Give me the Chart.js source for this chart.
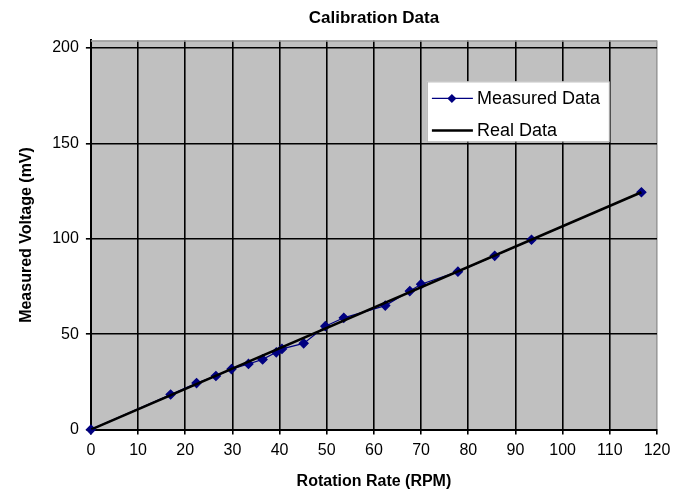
<!DOCTYPE html>
<html>
<head>
<meta charset="utf-8">
<title>Calibration Data</title>
<script src="https://cdn.jsdelivr.net/npm/chart.js@4.4.1/dist/chart.umd.min.js"></script>
<style>
  html, body { margin: 0; padding: 0; background: #fff; }
  canvas { display: block; }
</style>
</head>
<body>
<canvas id="calChart" width="689" height="495"></canvas>
<script>
// --- Data ---
const measuredRpm = [0, 16.9, 22.4, 26.5, 29.8, 33.4, 36.4, 39.3, 40.5, 45.1, 49.7, 53.6, 62.4, 67.6, 70.0, 77.8, 85.6, 93.4, 116.7];
const measuredMv  = [0, 18.4, 24.4, 28.1, 31.7, 34.4, 36.8, 40.5, 42.3, 45.2, 54.2, 58.6, 65.0, 72.6, 76.2, 82.8, 91.1, 99.5, 124.4];
const realRpm = [0, 116.7];
const realMv  = [0, 124.4];
const xTicks = [0, 10, 20, 30, 40, 50, 60, 70, 80, 90, 100, 110, 120];
const yTicks = [0, 50, 100, 150, 200];

const FONT = "'Liberation Sans', Arial, sans-serif";

function toPoints(xs, ys) {
  return xs.map((x, i) => ({x: x, y: ys[i]}));
}

// gray plot area + gray top edge, title centred over the plot
const plotBg = {
  id: 'plotBg',
  afterLayout(chart) {
    if (chart.titleBlock) {
      chart.titleBlock.left = chart.chartArea.left;
      chart.titleBlock.right = chart.chartArea.right;
    }
  },
  beforeDraw(chart) {
    const {ctx, chartArea: a} = chart;
    ctx.save();
    ctx.fillStyle = '#c0c0c0';
    ctx.fillRect(a.left, a.top, a.right - a.left, a.bottom - a.top);
    ctx.restore();
  },
  beforeDatasetsDraw(chart) {
    const {ctx, chartArea: a} = chart;
    ctx.save();
    ctx.strokeStyle = '#9a9a9a';
    ctx.lineWidth = 1.5;
    ctx.beginPath();
    ctx.moveTo(a.left, a.top + 0.5);
    ctx.lineTo(a.right, a.top + 0.5);
    ctx.stroke();
    ctx.restore();
  }
};

// legend box inside the plot, upper right
const boxLegend = {
  id: 'boxLegend',
  afterDraw(chart) {
    const {ctx, chartArea: a} = chart;
    const left = a.left + 336, top = a.top + 41, w = 182, h = 60;
    ctx.save();
    ctx.fillStyle = '#fff';
    ctx.fillRect(left, top, w, h);
    ctx.strokeStyle = '#b5b5b5';
    ctx.lineWidth = 1;
    ctx.strokeRect(left + 0.5, top + 0.5, w, h);
    chart.data.datasets.forEach((ds, i) => {
      const y = top + 17 + i * 32;
      ctx.strokeStyle = ds.borderColor;
      ctx.lineWidth = ds.borderWidth;
      ctx.beginPath();
      ctx.moveTo(left + 5, y);
      ctx.lineTo(left + 46, y);
      ctx.stroke();
      if (ds.pointRadius > 0) {
        const cx = left + 25, r = 4.5;
        ctx.fillStyle = ds.pointBackgroundColor;
        ctx.beginPath();
        ctx.moveTo(cx, y - r);
        ctx.lineTo(cx + r, y);
        ctx.lineTo(cx, y + r);
        ctx.lineTo(cx - r, y);
        ctx.closePath();
        ctx.fill();
      }
      ctx.fillStyle = '#000';
      ctx.font = '18px ' + FONT;
      ctx.textBaseline = 'middle';
      ctx.textAlign = 'left';
      ctx.fillText(ds.label, left + 50, y + 1);
    });
    ctx.restore();
  }
};

new Chart(document.getElementById('calChart'), {
  type: 'scatter',
  data: {
    datasets: [
      {
        label: 'Measured Data',
        data: toPoints(measuredRpm, measuredMv),
        showLine: true,
        borderColor: '#000080',
        backgroundColor: '#000080',
        pointBackgroundColor: '#000080',
        pointBorderColor: '#000080',
        pointStyle: 'rectRot',
        pointRadius: 4.5,
        borderWidth: 1.2,
        clip: false,
        order: 1
      },
      {
        label: 'Real Data',
        data: toPoints(realRpm, realMv),
        showLine: true,
        borderColor: '#000',
        backgroundColor: '#000',
        pointRadius: 0,
        borderWidth: 2.5,
        order: 0
      }
    ]
  },
  options: {
    responsive: false,
    animation: false,
    layout: { padding: { top: 0, left: 8, right: 32, bottom: 1 } },
    plugins: {
      legend: { display: false },
      tooltip: { enabled: false },
      title: {
        display: true,
        text: 'Calibration Data',
        color: '#000',
        font: { family: FONT, size: 17, weight: 'bold' },
        padding: { top: 8, bottom: 12 }
      }
    },
    scales: {
      x: {
        type: 'linear',
        min: 0,
        max: 120,
        afterBuildTicks: s => { s.ticks = xTicks.map(v => ({value: v})); },
        ticks: { color: '#000', font: { family: FONT, size: 16 }, padding: 6 },
        grid: {
          color: c => (c.tick && c.tick.value === 120) ? '#9a9a9a' : '#000',
          tickColor: '#000',
          lineWidth: 1.6,
          tickLength: 5
        },
        border: { color: '#000', width: 2 },
        title: {
          display: true,
          text: 'Rotation Rate (RPM)',
          color: '#000',
          font: { family: FONT, size: 16, weight: 'bold' },
          padding: { top: 6, bottom: 3 }
        }
      },
      y: {
        type: 'linear',
        min: 0,
        max: 204,
        afterBuildTicks: s => { s.ticks = yTicks.map(v => ({value: v})); },
        ticks: { color: '#000', font: { family: FONT, size: 16 }, padding: 7 },
        grid: { color: '#000', lineWidth: 1.6, tickLength: 5 },
        border: { color: '#000', width: 2 },
        title: {
          display: true,
          text: 'Measured Voltage (mV)',
          color: '#000',
          font: { family: FONT, size: 16, weight: 'bold' },
          padding: { top: 9, bottom: 9 }
        }
      }
    }
  },
  plugins: [plotBg, boxLegend]
});
</script>
</body>
</html>
